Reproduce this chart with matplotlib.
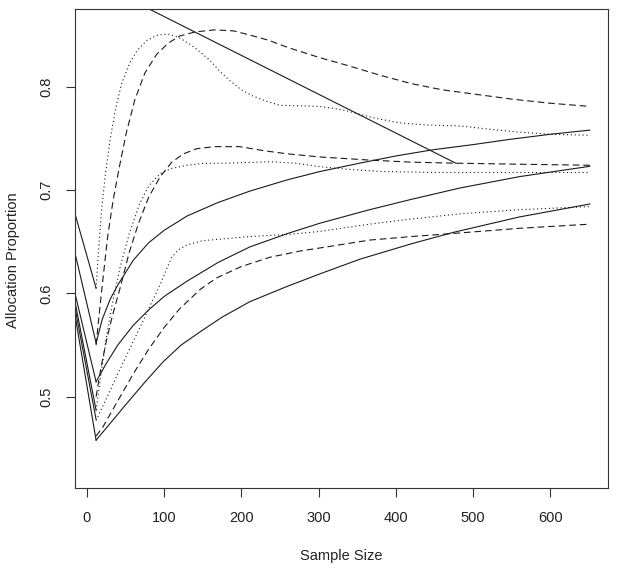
import numpy as np
import matplotlib
matplotlib.use("Agg")
import matplotlib.pyplot as plt

plt.rcParams['font.family'] = ['Liberation Sans', 'DejaVu Sans']

# solid curves
s1_x = [12, 20, 30, 40, 60, 80, 100, 130, 170, 211, 260, 302, 353, 400, 448, 500, 547, 600, 651]
s1_y = [0.552, 0.575, 0.594, 0.608, 0.632, 0.649, 0.661, 0.675, 0.688, 0.699, 0.710, 0.718,
        0.726, 0.733, 0.739, 0.744, 0.749, 0.754, 0.758]
s2_x = [12, 25, 40, 60, 80, 100, 130, 170, 211, 260, 302, 366, 420, 483, 560, 651]
s2_y = [0.5145, 0.532, 0.550, 0.569, 0.584, 0.597, 0.612, 0.630, 0.645, 0.658, 0.668, 0.681,
        0.691, 0.702, 0.713, 0.723]
s3_x = [12, 30, 50, 75, 99, 122, 147, 175, 211, 260, 302, 353, 420, 474, 560, 651]
s3_y = [0.458, 0.474, 0.492, 0.514, 0.534, 0.550, 0.563, 0.577, 0.592, 0.607, 0.619, 0.633,
        0.648, 0.659, 0.674, 0.6865]

# straight solid line
diag_x = [12, 478]
diag_y = [0.901, 0.7258]

# dotted curves
d1_x = [12, 15, 19, 24, 30, 37, 45, 55, 65, 78, 92, 105, 118, 132, 146, 160, 172, 185, 200,
        215, 232, 250, 275, 300, 320, 340, 370, 405, 440, 483, 520, 560, 600, 651]
d1_y = [0.605, 0.64, 0.68, 0.715, 0.748, 0.778, 0.803, 0.822, 0.835, 0.845, 0.850, 0.851,
        0.848, 0.842, 0.834, 0.825, 0.815, 0.806, 0.797, 0.791, 0.786, 0.782, 0.7815, 0.781,
        0.779, 0.776, 0.770, 0.765, 0.763, 0.762, 0.759, 0.756, 0.754, 0.753]
d2_x = [12, 18, 25, 33, 43, 55, 68, 80, 95, 110, 130, 151, 190, 237, 270, 302, 340, 380, 450, 651]
d2_y = [0.487, 0.52, 0.556, 0.590, 0.625, 0.658, 0.686, 0.704, 0.716, 0.721, 0.724, 0.7258,
        0.7262, 0.7274, 0.726, 0.7226, 0.720, 0.718, 0.717, 0.717]
d3_x = [12, 40, 70, 97, 104, 110, 118, 130, 150, 180, 211, 260, 302, 366, 420, 483, 560, 651]
d3_y = [0.477, 0.522, 0.569, 0.612, 0.625, 0.635, 0.642, 0.647, 0.651, 0.653, 0.655, 0.657,
        0.660, 0.667, 0.672, 0.677, 0.681, 0.684]

# dashed curves
da1_x = [12, 16, 21, 27, 34, 42, 51, 62, 75, 90, 105, 120, 140, 165, 190, 211, 235, 260, 302,
         340, 380, 420, 460, 500, 550, 600, 650]
da1_y = [0.55, 0.58, 0.615, 0.655, 0.69, 0.722, 0.755, 0.787, 0.813, 0.831, 0.842, 0.849,
         0.853, 0.855, 0.854, 0.850, 0.845, 0.838, 0.828, 0.820, 0.811, 0.803, 0.797, 0.793,
         0.788, 0.784, 0.781]
da2_x = [12, 18, 25, 33, 43, 55, 67, 80, 95, 110, 125, 142, 165, 198, 230, 260, 302, 366, 420,
         478, 560, 651]
da2_y = [0.50, 0.527, 0.553, 0.578, 0.605, 0.640, 0.668, 0.693, 0.713, 0.727, 0.735, 0.740,
         0.742, 0.742, 0.738, 0.735, 0.732, 0.729, 0.727, 0.726, 0.725, 0.724]
da3_x = [12, 21, 40, 60, 80, 100, 120, 147, 168, 200, 237, 276, 302, 366, 420, 474, 560, 651]
da3_y = [0.462, 0.471, 0.496, 0.522, 0.546, 0.567, 0.585, 0.604, 0.615, 0.626, 0.635, 0.641,
         0.644, 0.6516, 0.655, 0.658, 0.663, 0.667]

# solid lead-in segments from the left edge
lead_x = [-15.3, 12]
lead_start = [0.677, 0.639, 0.600, 0.592, 0.586, 0.579]
lead_end = [0.605, 0.552, 0.5145, 0.487, 0.478, 0.458]

fig = plt.figure(figsize=(6.21, 5.82), dpi=100)
ax = fig.add_axes([75 / 621, 1 - 488 / 582, 533 / 621, 479 / 582])

lc = '#1a1a1a'
lw = 0.8
for y0, y1 in zip(lead_start, lead_end):
    ax.plot(lead_x, [y0, y1], color=lc, lw=lw)
for x, y in [(s1_x, s1_y), (s2_x, s2_y), (s3_x, s3_y), (diag_x, diag_y)]:
    ax.plot(x, y, color=lc, lw=lw)
for x, y in [(d1_x, d1_y), (d2_x, d2_y), (d3_x, d3_y)]:
    ax.plot(x, y, color=lc, lw=lw, linestyle=(0, (1, 2.5)))
for x, y in [(da1_x, da1_y), (da2_x, da2_y), (da3_x, da3_y)]:
    ax.plot(x, y, color=lc, lw=lw, linestyle=(0, (6, 3.5)))

ax.set_xlim(-15.3, 674.5)
ax.set_ylim(0.4117, 0.8752)
ax.set_xticks([0, 100, 200, 300, 400, 500, 600])
ax.set_yticks([0.5, 0.6, 0.7, 0.8])
ax.set_yticklabels(['0.5', '0.6', '0.7', '0.8'], rotation=90, va='center')
ax.tick_params(direction='out', length=6.5, width=0.8, color='#333333',
               labelsize=10.5, labelcolor='#222222')
ax.tick_params(axis='x', pad=10)
ax.tick_params(axis='y', pad=9)
for sp in ax.spines.values():
    sp.set_color('#333333')
    sp.set_linewidth(0.8)

fig.text(341.5 / 621, 1 - 556 / 582, 'Sample Size', ha='center', va='center',
         fontsize=10.5, color='#222222')
fig.text(13 / 621, 1 - 260 / 582, 'Allocation Proportion', ha='center', va='center',
         rotation=90, fontsize=10.5, color='#222222')

fig.savefig('out.png', dpi=100)
